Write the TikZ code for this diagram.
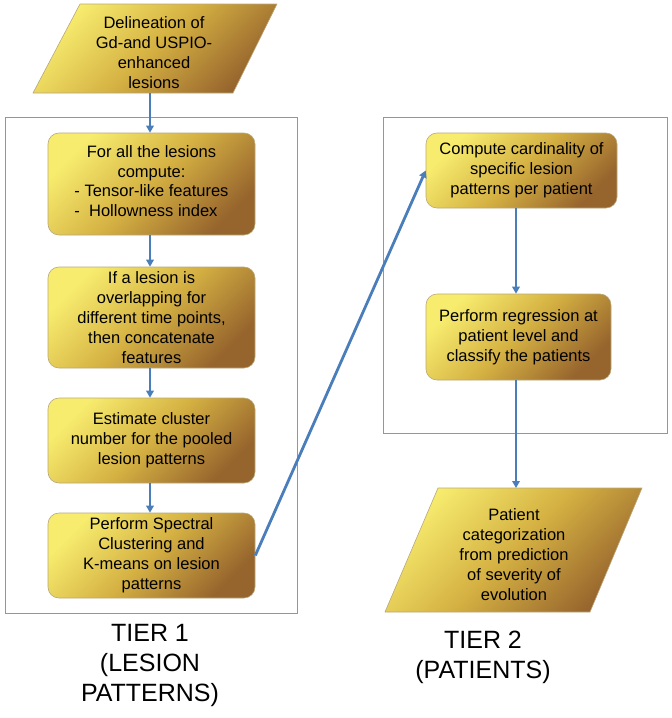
\documentclass[tikz,border=0pt]{standalone}
\usepackage{fontspec}
\setmainfont{Liberation Sans}
\usetikzlibrary{arrows.meta}
\definecolor{ylw}{RGB}{247,236,110}
\definecolor{gld}{RGB}{212,176,66}
\definecolor{brn}{RGB}{150,100,45}
\definecolor{edgecol}{RGB}{185,168,120}
\definecolor{arrcol}{RGB}{74,126,187}
\definecolor{framecol}{RGB}{120,155,200}
\tikzset{
  boxshade/.style={top color=ylw, bottom color=brn, middle color=gld, shading angle=45, draw=edgecol, line width=0.6pt},
  stepbox/.style={boxshade, rounded corners=11pt, align=center, inner sep=2pt,
    font=\fontsize{16.5}{20}\selectfont},
  txt/.style={align=center, font=\fontsize{16.5}{20}\selectfont},
  tier/.style={align=center, font=\fontsize{25}{30}\selectfont},
  frame/.style={draw=framecol, line width=1pt},
  arr/.style={draw=arrcol, line width=2.8pt, -{Triangle[length=7pt,width=7.5pt]}}
}
\begin{document}
\begin{tikzpicture}[x=1pt,y=-1pt]
\useasboundingbox (0,0) rectangle (672,718);
% frames
\draw[frame] (5,117) rectangle (297,613);
\draw[frame] (383,117) rectangle (667,433);
% top parallelogram
\path[boxshade] (80,4) -- (277,4) -- (233,93) -- (33,93) -- cycle;
\node[txt] (p1) at (154,53) {Delineation of\\Gd-and USPIO-\\enhanced\\lesions};
\coordinate (p1s) at (150,93);
% tier 1 boxes
\node[stepbox, minimum width=207pt, minimum height=102pt] (b1) at (151.5,184)
  {For all the lesions\\compute:\\\begin{tabular}{@{}l@{}}- Tensor-like features\\-\ \ Hollowness index\end{tabular}};
\node[stepbox, minimum width=207pt, minimum height=101pt] (b2) at (151.5,317.5)
  {If a lesion is\\overlapping for\\different time points,\\then concatenate\\features};
\node[stepbox, minimum width=207pt, minimum height=85pt] (b3) at (151.5,440.5)
  {Estimate cluster\\number for the pooled\\lesion patterns};
\node[stepbox, minimum width=207pt, minimum height=85pt] (b4) at (151.5,555.5)
  {Perform Spectral\\Clustering and\\K-means on lesion\\patterns};
% tier 2 boxes
\node[stepbox, minimum width=191pt, minimum height=75pt] (r1) at (521.5,170.5)
  {Compute cardinality of\\specific lesion\\patterns per patient};
\node[stepbox, minimum width=185pt, minimum height=86pt] (r2) at (518.5,337)
  {Perform regression at\\patient level and\\classify the patients};
% bottom parallelogram
\path[boxshade] (438,488) -- (642,488) -- (590,612) -- (385,612) -- cycle;
\node[txt] (p2) at (514,555) {Patient\\categorization\\from prediction\\of severity of\\evolution};
\coordinate (p2n) at (516,488);
% tier labels
\node[tier] (t1) at (150,665) {TIER 1\\(LESION\\PATTERNS)};
\node[tier] (t2) at (483,657) {TIER 2\\(PATIENTS)};
% connectors
\draw[arr] (p1s) -- (b1.north -| p1s);
\draw[arr] (b1.south -| p1s) -- (b2.north -| p1s);
\draw[arr] (b2.south -| p1s) -- (b3.north -| p1s);
\draw[arr] (b3.south -| p1s) -- (b4.north -| p1s);
\draw[arr] (b4.east) -- (r1.west);
\draw[arr] (r1.south -| p2n) -- (r2.north -| p2n);
\draw[arr] (r2.south -| p2n) -- (p2n);
\end{tikzpicture}
\end{document}
